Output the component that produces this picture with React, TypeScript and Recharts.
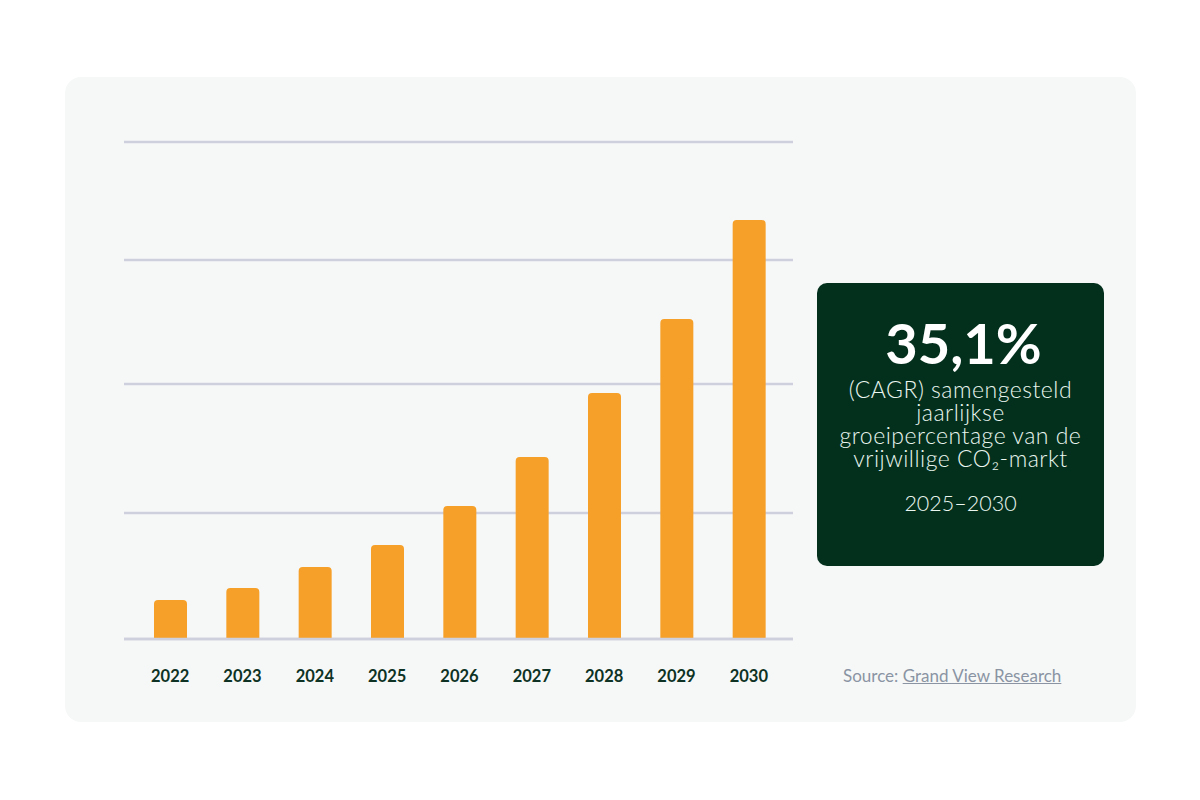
import React from "react";
import { BarChart, Bar, XAxis, YAxis, CartesianGrid, ReferenceLine } from "recharts";

const years = ["2022", "2023", "2024", "2025", "2026", "2027", "2028", "2029", "2030"];
const values = [39, 51, 72, 94, 133, 182, 246, 320, 419];
const gridTicks = [0, 126, 255, 379, 497];
const descriptionLines = ["(CAGR) samengesteld", "jaarlijkse", "groeipercentage van de", "vrijwillige CO₂-markt"];

const data = years.map((year, i) => ({ year, value: values[i] }));

const FONT = "Lato, 'Open Sans', sans-serif";

export default function App() {
    return (
        <div style={{ position: "absolute", left: 0, top: 0, width: 1200, height: 800, background: "#fff", fontFamily: FONT }}>
            <div style={{ position: "absolute", left: 65, top: 77, width: 1071, height: 645, background: "#f6f8f7", borderRadius: 16 }} />
            <div style={{ position: "absolute", left: 0, top: 0 }}>
                <BarChart width={1200} height={800} data={data} margin={{ top: 142, right: 407, left: 124, bottom: 131 }}>
                    <CartesianGrid horizontal vertical={false} stroke="#cfd0de" strokeWidth={2.5} horizontalValues={gridTicks} />
                    <YAxis hide domain={[0, 497]} ticks={gridTicks} />
                    <XAxis
                        dataKey="year"
                        axisLine={false}
                        tickLine={false}
                        interval={0}
                        height={30}
                        padding={{ left: 10, right: 8 }}
                        tick={{ fontSize: 16.5, fontWeight: 700, fill: "#0e3325", fontFamily: FONT }}
                        tickMargin={25}
                    />
                    <Bar dataKey="value" fill="#f6a029" barSize={33} radius={[4, 4, 0, 0]} isAnimationActive={false} />
                    <ReferenceLine y={0} stroke="#cfd0de" strokeWidth={2.5} />
                </BarChart>
            </div>
            <div style={{ position: "absolute", left: 817, top: 283, width: 287, height: 283, background: "#03301d", borderRadius: 10, textAlign: "center", color: "#eaf6ef" }}>
                <div style={{ position: "absolute", left: 6, right: 0, top: 27, fontSize: 56, lineHeight: "66px", fontWeight: 700, color: "#fff" }}>35,1%</div>
                <div style={{ position: "absolute", left: 0, right: 0, top: 95, fontSize: 23, lineHeight: "23px", fontWeight: 300, letterSpacing: 0.5 }}>
                    {descriptionLines.map((line) => (
                        <div key={line}>{line}</div>
                    ))}
                </div>
                <div style={{ position: "absolute", left: 0, right: 0, top: 208, fontSize: 21.5, lineHeight: "24px", fontWeight: 300 }}>2025–2030</div>
            </div>
            <div style={{ position: "absolute", left: 843, top: 666, fontSize: 17, lineHeight: "20px", fontWeight: 400, color: "#8a94a3", whiteSpace: "nowrap" }}>
                Source: <span style={{ textDecoration: "underline" }}>Grand View Research</span>
            </div>
        </div>
    );
}
